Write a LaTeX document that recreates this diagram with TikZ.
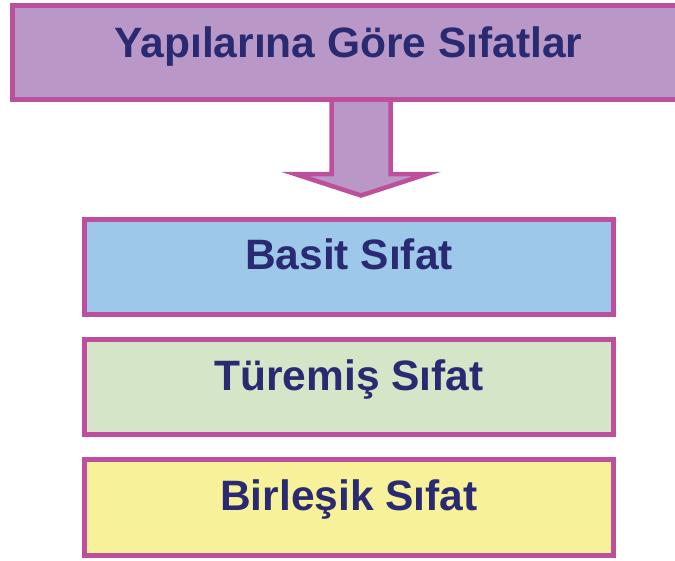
\documentclass[tikz,border=0pt]{standalone}
\usepackage{fontspec}
\setmainfont{Liberation Sans}
\definecolor{bordercol}{HTML}{BD4F9D}
\definecolor{purplefill}{HTML}{B998C8}
\definecolor{bluefill}{HTML}{9DC8EA}
\definecolor{greenfill}{HTML}{D4E6C7}
\definecolor{yellowfill}{HTML}{F7F299}
\definecolor{textcol}{HTML}{2A2A72}
\tikzset{
  boxstyle/.style={draw=bordercol, line width=5pt, rectangle, inner sep=0pt, outer sep=0pt,
    minimum width=529pt, minimum height=95pt, anchor=north west},
  labelstyle/.style={text=textcol, font=\bfseries\fontsize{42.5}{50}\selectfont, inner sep=0pt, anchor=base},
  arrowstyle/.style={draw=bordercol, line width=4.5pt, fill=purplefill, line join=miter}
}
\begin{document}
\begin{tikzpicture}[x=1pt,y=-1pt]
\useasboundingbox (0,0) rectangle (675,560);
% arrow
\draw[arrowstyle] (331.5,95) -- (331.5,174) -- (295,174) -- (361,195.5) -- (427,174) -- (390.5,174) -- (390.5,95) -- cycle;
% top box
\node[boxstyle, fill=purplefill, minimum width=690pt, minimum height=94pt] (topbox) at (12.5,5.5) {};
\node[labelstyle] (title) at (348.5,57) {Yapılarına Göre Sıfatlar};
% boxes
\node[boxstyle, fill=bluefill] (basitbox) at (84.5,219.5) {};
\node[labelstyle] (basit) at (349,269) {Basit Sıfat};
\node[boxstyle, fill=greenfill] (turemisbox) at (84.5,339.5) {};
\node[labelstyle] (turemis) at (349,390) {Türemiş Sıfat};
\node[boxstyle, fill=yellowfill, minimum height=96pt] (birlesikbox) at (84.5,459.5) {};
\node[labelstyle] (birlesik) at (349,510) {Birleşik Sıfat};
\end{tikzpicture}
\end{document}
